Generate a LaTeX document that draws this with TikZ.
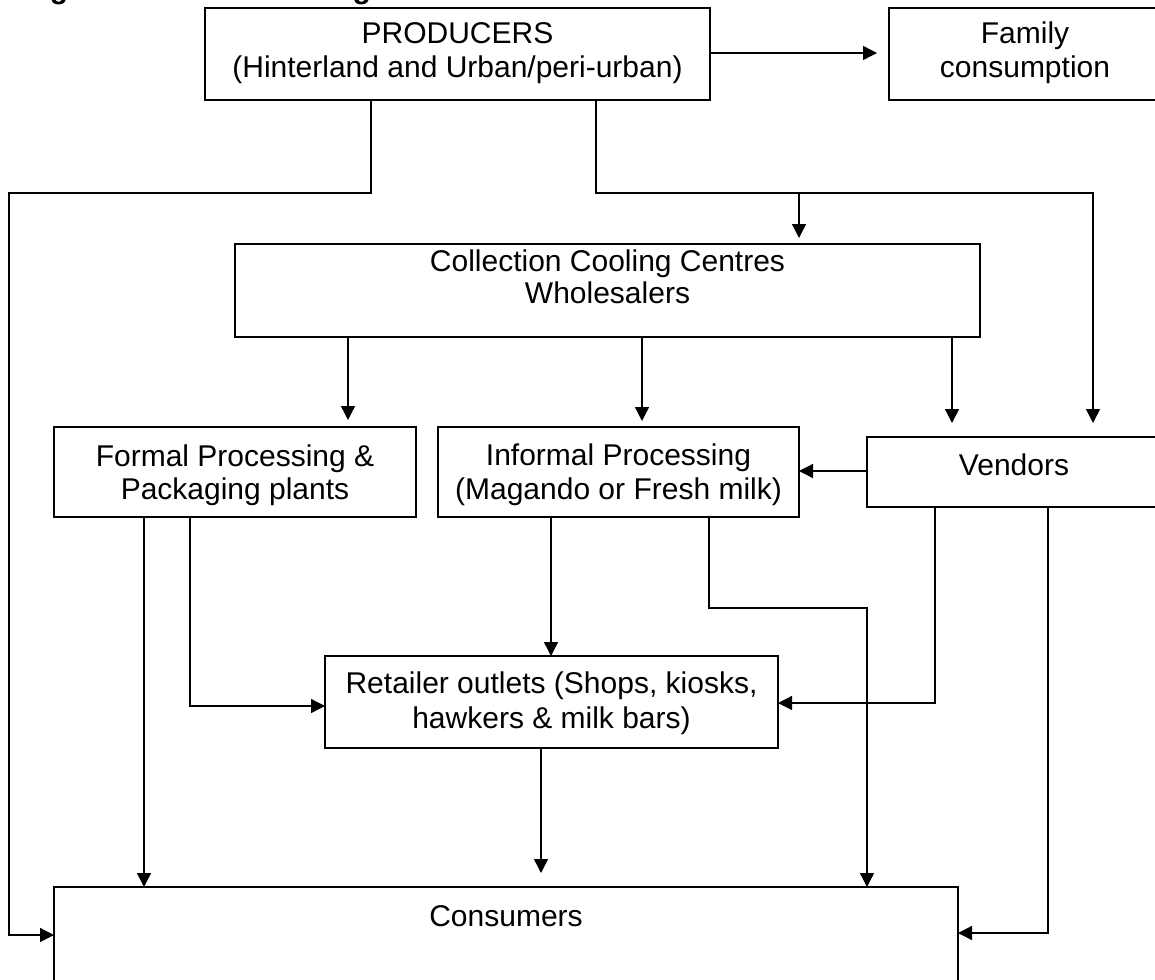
\documentclass[tikz,border=0pt]{standalone}
\usepackage{fontspec}
\setmainfont{Liberation Sans}
\usetikzlibrary{arrows.meta}
\tikzset{
  box/.style={draw, line width=1.4pt, inner sep=0pt, outer sep=0pt},
  txt/.style={anchor=base, inner sep=0pt, font=\fontsize{30}{34.5}\selectfont},
  conn/.style={line width=1.4pt},
  arr/.style={conn, -{Triangle[length=14pt,width=14pt]}}
}
\begin{document}
\begin{tikzpicture}[x=1pt,y=-1pt]
\useasboundingbox (0,0) rectangle (1155,979);
\clip (0,0) rectangle (1155,979);
\fill[white] (0,0) rectangle (1155,979);

% cut-off title (only descenders visible)
\node[anchor=base west, inner sep=0pt, font=\bfseries\fontsize{30}{36}\selectfont] (title) at (23,-1) {Figure 2: Milk marketing};

% boxes
\node[box, minimum width=505pt, minimum height=92pt] (prod) at (457.5,54) {};
\node[box, minimum width=272pt, minimum height=92pt] (fam) at (1025,54) {};
\node[box, minimum width=745pt, minimum height=93pt] (coll) at (607.5,290.5) {};
\node[box, minimum width=362pt, minimum height=90pt] (formal) at (235,472) {};
\node[box, minimum width=361pt, minimum height=90pt] (inf) at (618.5,472) {};
\node[box, minimum width=294pt, minimum height=70pt] (vend) at (1014,472) {};
\node[box, minimum width=453pt, minimum height=92pt] (ret) at (551.5,702) {};
\node[box, minimum width=904pt, minimum height=123pt] (cons) at (506,948.5) {};

% texts
\node[txt] (prodA) at (457.5,44) {PRODUCERS};
\node[txt] (prodB) at (457.5,78) {(Hinterland and Urban/peri-urban)};
\node[txt] (famA) at (1025,44) {Family};
\node[txt] (famB) at (1025,78) {consumption};
\node[txt] (collA) at (607.5,271) {Collection Cooling Centres};
\node[txt] (collB) at (607.5,303) {Wholesalers};
\node[txt] (formalA) at (235,466) {Formal Processing \&};
\node[txt] (formalB) at (235,499) {Packaging plants};
\node[txt] (infA) at (618.5,465) {Informal Processing};
\node[txt] (infB) at (618.5,499) {(Magando or Fresh milk)};
\node[txt] (vendA) at (1014,475) {Vendors};
\node[txt] (retA) at (551.5,693) {Retailer outlets (Shops, kiosks,};
\node[txt] (retB) at (551.5,728) {hawkers \& milk bars)};
\node[txt] (consA) at (506,926) {Consumers};

% connectors
\draw[arr, shorten >=12pt] (prod.east |- 0,53) -- (fam.west |- 0,53);
\draw[arr] (prod.south -| 371,0) -- (371,193) -- (9,193) -- (9,935) -- (cons.west |- 0,935);
\draw[arr, shorten >=14pt] (prod.south -| 596,0) -- (596,193) -- (1093,193) -- (vend.north -| 1093,0);
\draw[arr, shorten >=6pt] (799,193) -- (coll.north -| 799,0);

\draw[arr, shorten >=7pt] (coll.south -| 348,0) -- (formal.north -| 348,0);
\draw[arr, shorten >=6pt] (coll.south -| 642,0) -- (inf.north -| 642,0);
\draw[arr, shorten >=14pt] (coll.south -| 952,0) -- (vend.north -| 952,0);

\draw[arr] (vend.west |- 0,471) -- (inf.east |- 0,471);

\draw[arr] (inf.south -| 551,0) -- (ret.north -| 551,0);
\draw[arr] (inf.south -| 709,0) -- (709,608) -- (867,608) -- (cons.north -| 867,0);

\draw[arr] (formal.south -| 144,0) -- (cons.north -| 144,0);
\draw[arr] (formal.south -| 190,0) -- (190,706) -- (ret.west |- 0,706);

\draw[arr] (vend.south -| 935,0) -- (935,703) -- (ret.east |- 0,703);
\draw[arr] (vend.south -| 1048,0) -- (1048,933) -- (cons.east |- 0,933);

\draw[arr, shorten >=14pt] (ret.south -| 541,0) -- (cons.north -| 541,0);
\end{tikzpicture}
\end{document}
